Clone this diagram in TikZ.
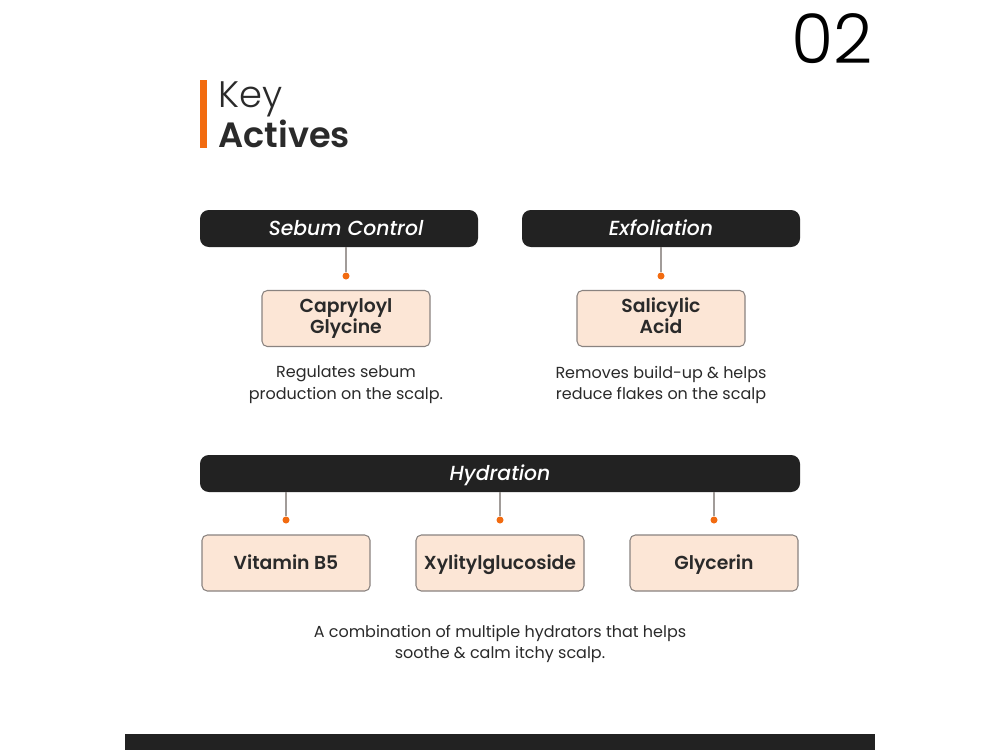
\documentclass[tikz,border=0pt]{standalone}
\usepackage{fontspec}
\setmainfont{Poppins}[BoldFont={* SemiBold},BoldItalicFont={* Medium Italic}]
\newfontfamily\poplight{Poppins}[UprightFont={* Light}]
\usetikzlibrary{positioning}

\definecolor{darkbar}{HTML}{222222}
\definecolor{accent}{HTML}{F26B10}
\definecolor{peach}{HTML}{FCE6D6}
\definecolor{edgegray}{HTML}{8A8380}
\definecolor{textgray}{HTML}{2A2A2A}

\tikzset{
  header/.style={fill=darkbar,rounded corners=5pt,text=white,
    font=\fontsize{11.6}{14}\selectfont\bfseries\itshape,minimum height=37*0.02cm,inner sep=0pt,
    execute at begin node={\vphantom{Ay}\rule{0pt}{0.95em}},execute at end node={\vphantom{Ay}}},
  active/.style={fill=peach,draw=edgegray,line width=0.6pt,rounded corners=3pt,
    text=textgray,font=\fontsize{10.7}{12}\selectfont\bfseries,align=center,
    minimum width=168*0.02cm,minimum height=56*0.02cm,inner sep=0pt,
    execute at begin node={\leavevmode\rule{0pt}{0.95em}\vphantom{Ay}},
    execute at end node={\vphantom{Ay}}},
  note/.style={text=textgray,font=\fontsize{9.1}{12.4}\selectfont,align=center},
  link/.style={draw=edgegray!80,line width=0.7pt},
  dot/.style={circle,fill=accent,inner sep=0pt,minimum size=7*0.02cm}
}

\begin{document}
\begin{tikzpicture}[x=0.02cm,y=-0.02cm]

  % Page frame
  \useasboundingbox[fill=white] (0,0) rectangle (1000,750);

  % Page number
  \node[anchor=east,font=\poplight\fontsize{39}{39}\selectfont,text=black] (num) at (879,39) {02};

  % Title
  \fill[accent] (200,80) rectangle (207,148);
  \node[anchor=base west,inner sep=0pt,font=\poplight\fontsize{21}{21}\selectfont,text=textgray] (key) at (218,108) {Key};
  \node[anchor=base west,inner sep=0pt,font=\fontsize{20}{20}\selectfont\bfseries,text=textgray] (act) at (218,147) {Actives};

  % Header bars
  \node[header,minimum width=278*0.02cm] (sebum) at (339,228.5) {\hspace*{0.28cm}Sebum Control};
  \node[header,minimum width=278*0.02cm] (exfol) at (661,228.5) {Exfoliation};
  \node[header,minimum width=600*0.02cm] (hydra) at (500,473.5) {Hydration};

  % Active ingredient boxes
  \node[active] (capry) at (346,318.5) {Capryloyl\\Glycine};
  \node[active] (salic) at (661,318.5) {Salicylic\\Acid};
  \node[active] (vitb) at (286,563) {Vitamin B5};
  \node[active] (xylit) at (500,563) {Xylitylglucoside};
  \node[active] (glyc) at (714,563) {Glycerin};

  % Connectors with dots
  \node[dot] (d1) at (346,276) {};
  \node[dot] (d2) at (661,276) {};
  \node[dot] (d3) at (286,520) {};
  \node[dot] (d4) at (500,520) {};
  \node[dot] (d5) at (714,520) {};
  \draw[link] (d1) -- (d1 |- sebum.south);
  \draw[link] (d2) -- (d2 |- exfol.south);
  \foreach \d in {d3,d4,d5}
    \draw[link] (\d) -- (\d |- hydra.south);

  % Descriptions
  \node[note] (n1) at (346,385) {Regulates sebum\\production on the scalp.};
  \node[note] (n2) at (661,385) {Removes build-up \& helps\\reduce flakes on the scalp};
  \node[note] (n3) at (500,644) {A combination of multiple hydrators that helps\\soothe \& calm itchy scalp.};

  % Bottom band
  \fill[darkbar] (125,734) rectangle (875,750);

\end{tikzpicture}
\end{document}
